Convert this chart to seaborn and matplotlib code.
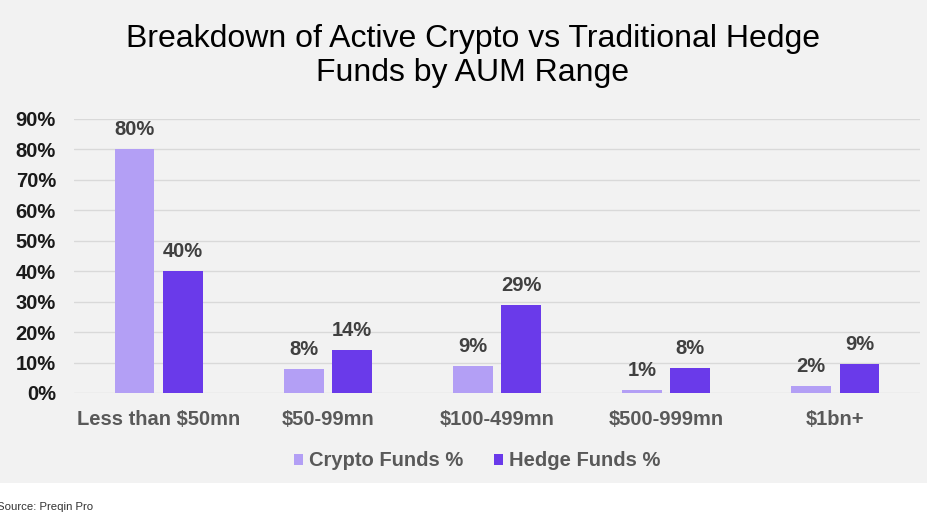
import matplotlib
matplotlib.use("Agg")
import matplotlib.pyplot as plt
import seaborn as sns
import pandas as pd
from matplotlib.patches import Patch

categories = ["Less than $50mn", "$50-99mn", "$100-499mn", "$500-999mn", "$1bn+"]
crypto_pct = [80, 8, 9, 1, 2.3]
hedge_pct = [40, 14, 29, 8.2, 9.5]
crypto_labels = ["80%", "8%", "9%", "1%", "2%"]
hedge_labels = ["40%", "14%", "29%", "8%", "9%"]
series = ["Crypto Funds %", "Hedge Funds %"]
yticks = [0, 10, 20, 30, 40, 50, 60, 70, 80, 90]

df = pd.DataFrame({
    "category": categories * 2,
    "series": [series[0]] * len(categories) + [series[1]] * len(categories),
    "value": crypto_pct + hedge_pct,
})

sns.set_theme(style="white")
plt.rcParams["font.family"] = ["Liberation Sans", "DejaVu Sans"]

bg = "#f2f2f2"
colors = {series[0]: "#b39ff5", series[1]: "#6a3aea"}
fs = 14.5

fig = plt.figure(figsize=(9.28, 5.18), dpi=100)
fig.patch.set_facecolor("white")
fig.patches.append(plt.Rectangle((0, (518 - 483) / 518), 1, 483 / 518,
                                 transform=fig.transFigure, facecolor=bg,
                                 edgecolor="none", zorder=-10))

ax = fig.add_axes([74 / 928, (518 - 393) / 518, (920 - 74) / 928, (393 - 119) / 518])
ax.set_facecolor(bg)
ax.patch.set_alpha(0)

sns.barplot(data=df, x="category", y="value", hue="series", order=categories,
            hue_order=series, palette=colors, width=0.57, ax=ax, legend=False,
            saturation=1, edgecolor="none")

# narrow bars, keep centres
bar_w = 0.235
for p in ax.patches:
    c = p.get_x() + p.get_width() / 2
    p.set_width(bar_w)
    p.set_x(c - bar_w / 2)

# labels
ncat = len(categories)
for i, p in enumerate(ax.patches[:2 * ncat]):
    lab = (crypto_labels + hedge_labels)[i]
    ax.text(p.get_x() + p.get_width() / 2, p.get_height() + 3.3, lab,
            ha="center", va="bottom", fontsize=fs, fontweight="bold",
            color="#404040")

ax.set_ylim(0, 90)
ax.set_yticks(yticks)
ax.set_yticklabels([f"{v}%" for v in yticks], fontsize=fs, fontweight="bold",
                   color="#1a1a1a")
ax.set_xlim(-0.5, ncat - 0.5)
ax.set_xticks(range(ncat))
ax.set_xticklabels(categories, fontsize=fs, fontweight="bold", color="#595959")
ax.tick_params(axis="y", length=0, pad=13)
ax.tick_params(axis="x", length=0, pad=12)
ax.yaxis.grid(True, color="#d9d9d9", linewidth=1)
ax.set_axisbelow(True)
for s in ax.spines.values():
    s.set_visible(False)
ax.set_xlabel("")
ax.set_ylabel("")

fig.text(473 / 928, 1 - 56 / 518, "Breakdown of Active Crypto vs Traditional Hedge\nFunds by AUM Range",
         ha="center", va="center", fontsize=23, color="#000000", linespacing=1.2)

handles = [Patch(facecolor=colors[s], edgecolor="none") for s in series]
leg = fig.legend(handles, series, loc="center", bbox_to_anchor=(477 / 928, 1 - 461 / 518),
                 ncol=2, frameon=False, handlelength=0.45, handleheight=0.45,
                 handletextpad=0.3, columnspacing=1.5,
                 prop={"weight": "bold", "size": fs})
for t in leg.get_texts():
    t.set_color("#595959")

fig.text(-3 / 928, 1 - 507 / 518, "Source: Preqin Pro", ha="left", va="center",
         fontsize=8.2, color="#333333")

fig.savefig("out.png", dpi=100, facecolor=fig.get_facecolor())
